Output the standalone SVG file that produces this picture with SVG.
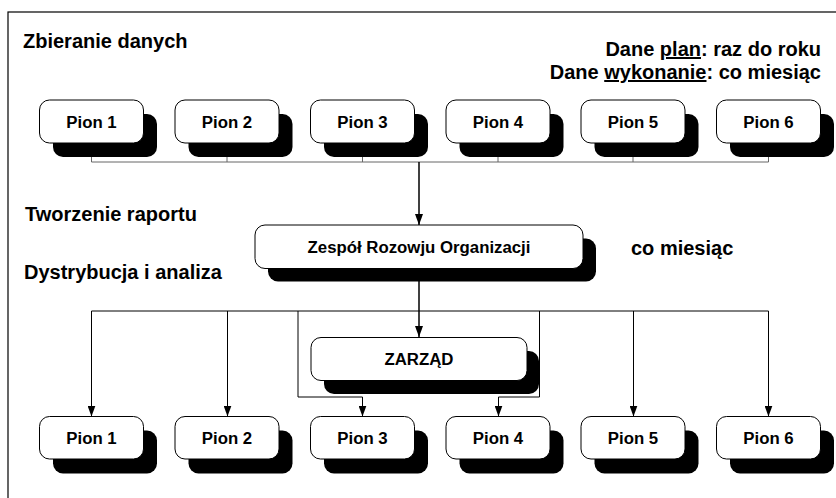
<svg xmlns="http://www.w3.org/2000/svg" width="836" height="498" viewBox="0 0 836 498">
<style>
.frame{fill:none;stroke:#000;stroke-width:1.2}
.box{fill:#fff;stroke:#000;stroke-width:1}
.sh{fill:#000}
.lbl{font-family:"Liberation Sans",Arial,sans-serif;font-weight:bold;font-size:16.8px;fill:#000;text-anchor:middle}
.hd{font-family:"Liberation Sans",Arial,sans-serif;font-weight:bold;font-size:20px;fill:#000}
.bus{fill:none;stroke:#666;stroke-width:1}
.ln{fill:none;stroke:#000;stroke-width:1}
.main{fill:none;stroke:#000;stroke-width:1.5}
</style>
<defs>
<marker id="ah" markerWidth="11" markerHeight="8" refX="11" refY="4" orient="auto" markerUnits="userSpaceOnUse">
<path d="M0,0 L11,4 L0,8 z" fill="#000"/>
</marker>
</defs>
<rect x="8" y="12" width="840" height="500" fill="#fff" class="frame"/>

<text class="hd" x="23" y="48">Zbieranie danych</text>
<text class="hd" x="821" y="56" text-anchor="end">Dane <tspan text-decoration="underline">plan</tspan>: raz do roku</text>
<text class="hd" x="821" y="79" text-anchor="end">Dane <tspan text-decoration="underline">wykonanie</tspan>: co miesiąc</text>
<text class="hd" x="25" y="221">Tworzenie raportu</text>
<text class="hd" x="631" y="255">co miesiąc</text>
<text class="hd" x="24" y="279">Dystrybucja i analiza</text>

<g id="connectors">
<path class="bus" d="M91.5,157 V162 H768.5 V157 M227,157 V162 M362.5,157 V162 M498,157 V162 M633,157 V162"/>
<path class="main" d="M419,162 V225" marker-end="url(#ah)"/>
<path class="main" d="M419,268 V337" marker-end="url(#ah)"/>
<path class="ln" d="M91.5,311 H768.5"/>
<path class="ln" d="M91.5,311 V416.5" marker-end="url(#ah)"/>
<path class="ln" d="M227.5,311 V416.5" marker-end="url(#ah)"/>
<path class="ln" d="M633.5,311 V416.5" marker-end="url(#ah)"/>
<path class="ln" d="M768.5,311 V416.5" marker-end="url(#ah)"/>
<path class="ln" d="M298,311 V397 H362.5 V416.5" marker-end="url(#ah)"/>
<path class="ln" d="M539.5,311 V397 H498.5 V416.5" marker-end="url(#ah)"/>
</g>

<g id="top-pion-1"><rect class="sh" x="53" y="114" width="104" height="43" rx="10"/><rect class="box" x="39.5" y="100" width="104" height="43" rx="10"/><text class="lbl" x="91.5" y="127.5">Pion 1</text></g>
<g id="top-pion-2"><rect class="sh" x="188.5" y="114" width="104" height="43" rx="10"/><rect class="box" x="175" y="100" width="104" height="43" rx="10"/><text class="lbl" x="227" y="127.5">Pion 2</text></g>
<g id="top-pion-3"><rect class="sh" x="324" y="114" width="104" height="43" rx="10"/><rect class="box" x="310.5" y="100" width="104" height="43" rx="10"/><text class="lbl" x="362.5" y="127.5">Pion 3</text></g>
<g id="top-pion-4"><rect class="sh" x="459.5" y="114" width="104" height="43" rx="10"/><rect class="box" x="446" y="100" width="104" height="43" rx="10"/><text class="lbl" x="498" y="127.5">Pion 4</text></g>
<g id="top-pion-5"><rect class="sh" x="594.5" y="114" width="104" height="43" rx="10"/><rect class="box" x="581" y="100" width="104" height="43" rx="10"/><text class="lbl" x="633" y="127.5">Pion 5</text></g>
<g id="top-pion-6"><rect class="sh" x="730" y="114" width="104" height="43" rx="10"/><rect class="box" x="716.5" y="100" width="104" height="43" rx="10"/><text class="lbl" x="768.5" y="127.5">Pion 6</text></g>

<g id="zespol"><rect class="sh" x="268" y="238.5" width="328" height="43" rx="10"/><rect class="box" x="255" y="225" width="328" height="43.5" rx="10"/><text class="lbl" x="419" y="252.5">Zespół Rozowju Organizacji</text></g>

<g id="zarzad"><rect class="sh" x="324" y="351" width="215" height="43" rx="10"/><rect class="box" x="311" y="337.5" width="216" height="43" rx="10"/><text class="lbl" x="419" y="365">ZARZĄD</text></g>

<g id="bot-pion-1"><rect class="sh" x="53" y="430.5" width="104" height="43" rx="10"/><rect class="box" x="39.5" y="416.5" width="104" height="42.5" rx="10"/><text class="lbl" x="91.5" y="444">Pion 1</text></g>
<g id="bot-pion-2"><rect class="sh" x="188.5" y="430.5" width="104" height="43" rx="10"/><rect class="box" x="175" y="416.5" width="104" height="42.5" rx="10"/><text class="lbl" x="227" y="444">Pion 2</text></g>
<g id="bot-pion-3"><rect class="sh" x="324" y="430.5" width="104" height="43" rx="10"/><rect class="box" x="310.5" y="416.5" width="104" height="42.5" rx="10"/><text class="lbl" x="362.5" y="444">Pion 3</text></g>
<g id="bot-pion-4"><rect class="sh" x="459.5" y="430.5" width="104" height="43" rx="10"/><rect class="box" x="446" y="416.5" width="104" height="42.5" rx="10"/><text class="lbl" x="498" y="444">Pion 4</text></g>
<g id="bot-pion-5"><rect class="sh" x="594.5" y="430.5" width="104" height="43" rx="10"/><rect class="box" x="581" y="416.5" width="104" height="42.5" rx="10"/><text class="lbl" x="633" y="444">Pion 5</text></g>
<g id="bot-pion-6"><rect class="sh" x="730" y="430.5" width="104" height="43" rx="10"/><rect class="box" x="716.5" y="416.5" width="104" height="42.5" rx="10"/><text class="lbl" x="768.5" y="444">Pion 6</text></g>
</svg>
